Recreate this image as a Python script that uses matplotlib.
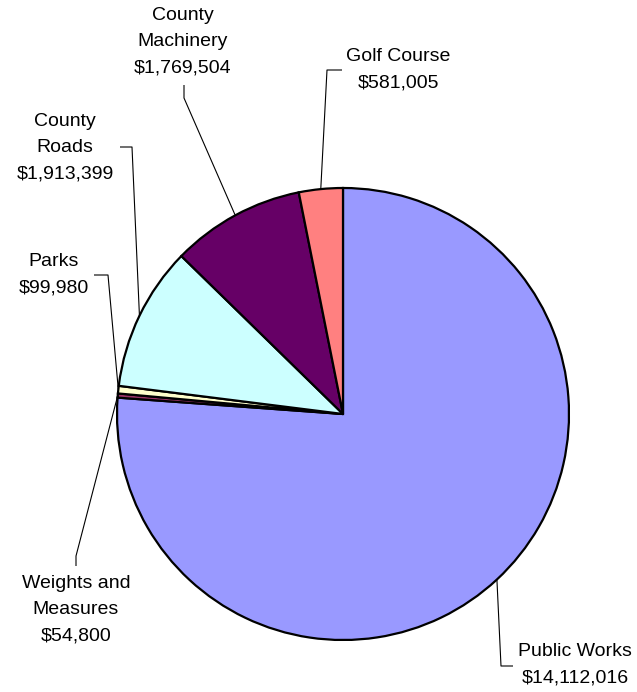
import numpy as np
import matplotlib
matplotlib.use("Agg")
import matplotlib.pyplot as plt

# Budget by department (clockwise from 12 o'clock)
departments = ["Public Works", "Weights and\nMeasures", "Parks",
               "County\nRoads", "County\nMachinery", "Golf Course"]
amounts = [14112016, 54800, 99980, 1913399, 1769504, 581005]
colors = ["#9999FF", "#993366", "#FFFFCC", "#CCFFFF", "#660066", "#FF8080"]

W, H = 637, 692
fig = plt.figure(figsize=(W / 100, H / 100), dpi=100)
ax = fig.add_axes([0, 0, 1, 1])
ax.set_xlim(0, W)
ax.set_ylim(0, H)
ax.set_aspect("equal")
ax.axis("off")

cx, cy, r = 343, H - 414, 226
wedges, _ = ax.pie(amounts, colors=colors, startangle=90, counterclock=False,
                   center=(cx, cy), radius=r,
                   wedgeprops=dict(edgecolor="black", linewidth=1.6))
ax.set_xlim(0, W)
ax.set_ylim(0, H)

# label text centre and leader elbow points, in pixel units from top-left
layout = [
    dict(text=(575, 665), elbow=[(501, 666), (513, 666)]),
    dict(text=(76, 610), elbow=[(76, 556), (76, 566)]),
    dict(text=(54, 275), elbow=[(108, 275), (94, 275)]),
    dict(text=(65, 148), elbow=[(132, 147), (120, 147)]),
    dict(text=(183, 42), elbow=[(184, 98), (184, 85)]),
    dict(text=(398, 70), elbow=[(327, 70), (342, 70)]),
]

font = dict(family=["Liberation Sans", "DejaVu Sans"], size=14)
for w, name, amt, lay in zip(wedges, departments, amounts, layout):
    mid = np.deg2rad((w.theta1 + w.theta2) / 2)
    ex, ey = cx + r * np.cos(mid), cy + r * np.sin(mid)
    xs = [ex] + [p[0] for p in lay["elbow"]]
    ys = [ey] + [H - p[1] for p in lay["elbow"]]
    ax.plot(xs, ys, color="black", linewidth=0.8, solid_capstyle="butt")
    tx, ty = lay["text"]
    ax.text(tx, H - ty, f"{name}\n${amt:,}", ha="center", va="center",
            multialignment="center", linespacing=1.7, **font)

fig.savefig("out.png", dpi=100)
